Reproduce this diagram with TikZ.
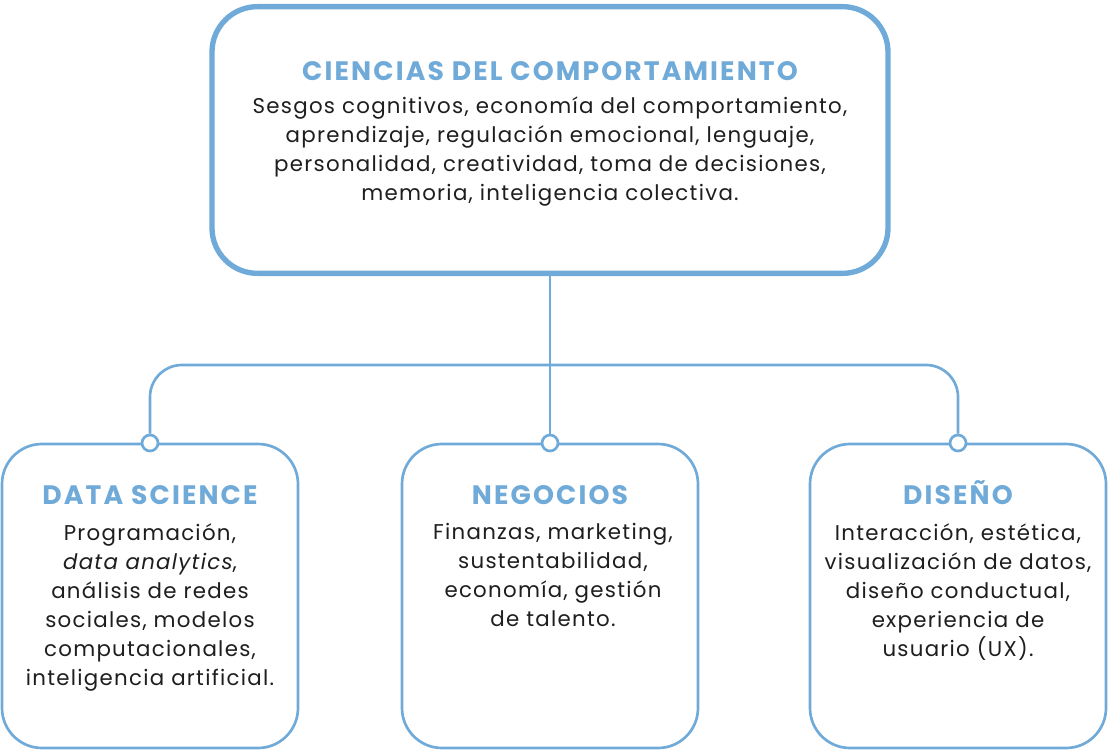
\documentclass[tikz,border=0pt]{standalone}
\usepackage{fontspec}
\setmainfont{Poppins}
\definecolor{skyline}{HTML}{6FAAD8}
\definecolor{inkgray}{HTML}{1E1E1E}
\tikzset{
  bigbox/.style={draw=skyline, line width=4pt, rounded corners=34pt, fill=white},
  areabox/.style={draw=skyline, line width=2pt, rounded corners=30pt, fill=white},
  heading/.style={text=skyline, font=\fontsize{20}{24}\selectfont\bfseries\addfontfeature{LetterSpace=8}, anchor=base},
  bodytext/.style={text=inkgray, font=\fontsize{16}{21.75}\selectfont\addfontfeature{LetterSpace=6}, align=center, anchor=north},
  link/.style={draw=skyline, line width=2pt},
  knot/.style={circle, draw=skyline, line width=2pt, fill=white, inner sep=0pt, minimum size=12pt}
}
\begin{document}
\begin{tikzpicture}[x=0.75pt,y=-0.75pt]
  \useasboundingbox (0,0) rectangle (1109,752);

  % Caja principal
  \node[bigbox, minimum width=507pt, minimum height=200pt] (core) at (550,140) {};
  \node[heading] (coretitle) at (550,81) {CIENCIAS DEL COMPORTAMIENTO};
  \node[bodytext] (corebody) at (550,92) {Sesgos cognitivos, economía del comportamiento,\\aprendizaje, regulación emocional, lenguaje,\\personalidad, creatividad, toma de decisiones,\\memoria, inteligencia colectiva.};

  % Tres áreas
  \node[areabox, minimum width=222pt, minimum height=228pt] (datasci) at (150,596) {};
  \node[areabox, minimum width=222pt, minimum height=228pt] (negocios) at (550,596) {};
  \node[areabox, minimum width=222pt, minimum height=228pt] (diseno) at (958,596) {};

  \node[heading] (dstitle) at (150,504) {DATA SCIENCE};
  \node[heading] (negtitle) at (550,504) {NEGOCIOS};
  \node[heading] (distitle) at (958,504) {DISEÑO};

  \node[bodytext] (dsbody) at (150,519) {Programación,\\\textit{data analytics},\\análisis de redes\\sociales, modelos\\computacionales,\\inteligencia artificial.};
  \node[bodytext] (negbody) at (553,519) {Finanzas, marketing,\\sustentabilidad,\\economía, gestión\\de talento.};
  \node[bodytext] (disbody) at (958,519) {Interacción, estética,\\visualización de datos,\\diseño conductual,\\experiencia de\\usuario (UX).};

  % Conexiones
  \coordinate (hub) at (550,365);
  \node[knot] (k1) at (150,443) {};
  \node[knot] (k2) at (550,443) {};
  \node[knot] (k3) at (958,443) {};
  \draw[link] (core.south) -- (k2.north);
  \draw[link, rounded corners=24pt] (k1.north) |- (hub) -| (k3.north);
\end{tikzpicture}
\end{document}
